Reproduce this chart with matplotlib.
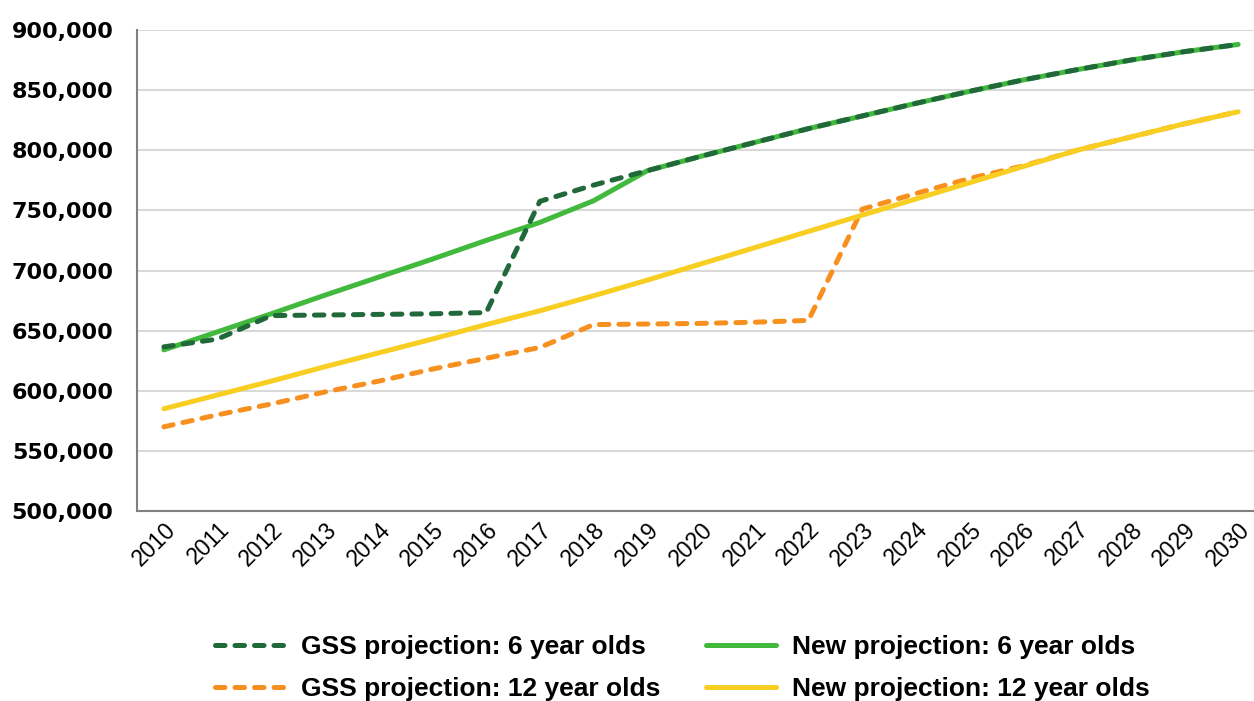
import matplotlib.pyplot as plt
import matplotlib.ticker as mticker
import numpy as np

years = [str(y) for y in range(2010, 2031)]

gss_6 = [636500, 643000, 662500, 663000, 663500, 664000, 665000, 757500, 771000, 783000,
         795000, 806500, 818000, 828500, 839000, 849000, 858500, 867000, 875000, 882000, 888000]
new_6 = [634000, 649000, 664000, 679500, 694500, 709500, 725000, 740000, 758000, 783000,
         795000, 806500, 818000, 828500, 839000, 849000, 858500, 867000, 875000, 882000, 888000]
gss_12 = [570000, 580000, 589000, 599000, 608000, 618000, 627000, 636000, 655000, 655500,
          656000, 657000, 658500, 751000, 764000, 776500, 787000, 800000, 811000, 822000, 832000]
new_12 = [585000, 596500, 608000, 620000, 631500, 643000, 655000, 666500, 679000, 692000,
          705500, 719000, 732500, 746000, 759500, 773000, 786500, 800000, 811000, 822000, 832000]

labels = ["GSS projection: 6 year olds", "GSS projection: 12 year olds",
          "New projection: 6 year olds", "New projection: 12 year olds"]

W, H = 1254, 701
fig = plt.figure(figsize=(W / 100, H / 100), dpi=100)
ax = fig.add_axes([137 / W, (H - 511) / H, (1265 - 137) / W, (511 - 30) / H])

x = np.arange(len(years))
lw = 3.6
dash = dict(dashes=(1.9, 2.0), dash_capstyle='round', solid_capstyle='round')
l_new6, = ax.plot(x, new_6, color='#40B93C', lw=lw, solid_capstyle='round', zorder=3)
l_gss6, = ax.plot(x, gss_6, color='#21683A', lw=lw, zorder=4, **dash)
l_gss12, = ax.plot(x, gss_12, color='#F7901E', lw=lw, zorder=5, **dash)
l_new12, = ax.plot(x, new_12, color='#F8CE22', lw=lw, solid_capstyle='round', zorder=6)

ax.set_xlim(-0.5, len(years) - 0.5)
ax.set_ylim(500000, 900000)
ax.set_yticks(np.arange(500000, 900001, 50000))
ax.yaxis.set_major_formatter(mticker.FuncFormatter(lambda v, p: f"{int(v):,}"))
ax.set_xticks(x)
ax.set_xticklabels(years, rotation=45, ha='right', rotation_mode='anchor',
                   fontsize=16.5, family='Liberation Sans')
for t in ax.get_yticklabels():
    t.set_fontsize(16)
    t.set_fontweight('bold')
ax.tick_params(axis='y', length=0, pad=17)
ax.tick_params(axis='x', length=0, pad=5)

ax.grid(axis='y', color='#d9d9d9', lw=1.5)
ax.set_axisbelow(True)
for s in ['top', 'right']:
    ax.spines[s].set_visible(False)
for s in ['left', 'bottom']:
    ax.spines[s].set_color('#808080')
    ax.spines[s].set_linewidth(1.5)

fig.legend([l_gss6, l_gss12, l_new6, l_new12], labels, ncol=2, frameon=False,
           loc='center', bbox_to_anchor=(0.544, 0.047), handlelength=2.65,
           columnspacing=1.75, labelspacing=0.68, handletextpad=0.6,
           prop=dict(family='Liberation Sans', weight='bold', size=19))

fig.savefig('out.png', dpi=100)
